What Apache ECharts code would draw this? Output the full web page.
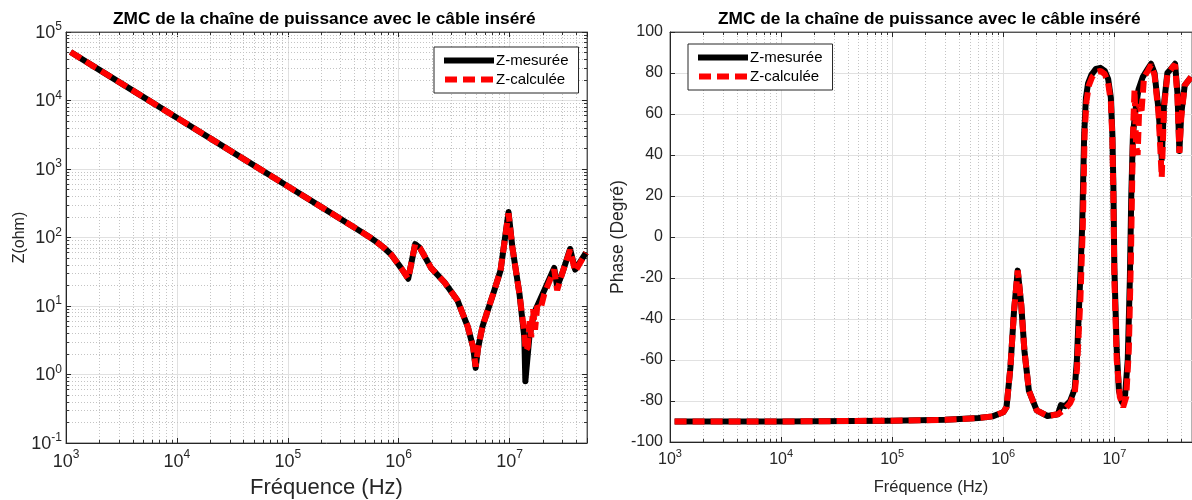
<!DOCTYPE html>
<html><head><meta charset="utf-8">
<script src="https://cdn.jsdelivr.net/npm/echarts@6/dist/echarts.min.js"></script>
<style>html,body{margin:0;padding:0;background:#fff}#c{width:1192px;height:500px}</style>
</head><body><div id="c"></div>
<script>
// ---------- DATA ----------
const titleText = 'ZMC de la chaîne de puissance avec le câble inséré';
const seriesNames = ['Z-mesurée', 'Z-calculée'];
const xName = 'Fréquence (Hz)';
const yNameZ = 'Z(ohm)';
const yNamePh = 'Phase (Degré)';

// Impedance magnitude (ohm) vs frequency (Hz)
const freqZMes = [1100, 2000, 5000, 10000, 20000, 50000, 100000, 200000, 430000, 550000, 640000, 730000, 860000, 1050000, 1150000, 1220000, 1410000, 1560000, 1960000, 2600000, 3400000, 4200000, 4700000, 4950000, 5200000, 5700000, 7300000, 8300000, 9800000, 10600000, 12300000, 13600000, 13900000, 15100000, 16700000, 20600000, 25300000, 26900000, 29900000, 35200000, 39100000, 49000000];
const zMes     = [51000, 28000, 11200, 5600, 2800, 1120, 560, 280, 130, 101, 85, 72, 56, 36, 29, 25, 80, 70, 36, 22, 12, 5, 2.5, 1.25, 2.4, 5, 17, 33, 235, 73, 15, 3.5, 0.8, 3.5, 8, 17, 36, 19, 30, 68, 34, 60];

const freqZCal = [1100, 2000, 5000, 10000, 20000, 50000, 100000, 200000, 430000, 550000, 640000, 730000, 860000, 1050000, 1150000, 1220000, 1410000, 1560000, 1960000, 2600000, 3400000, 4200000, 4700000, 4950000, 5200000, 5700000, 7300000, 8300000, 9800000, 10600000, 12300000, 13600000, 14000000, 14600000, 15200000, 15700000, 16300000, 17000000, 17800000, 19000000, 20600000, 25300000, 26900000, 29900000, 35200000, 39100000, 49000000];
const zCal     = [51000, 28000, 11200, 5600, 2800, 1120, 560, 280, 130, 101, 85, 72, 56, 36, 29, 25, 80, 70, 36, 22, 12, 5, 2.5, 1.3, 2.4, 5, 17, 33, 225, 73, 15, 4, 2.2, 2.5, 6, 3.5, 9, 4.5, 10, 9, 15, 34, 17, 30, 66, 32, 60];

// Phase (degrees) vs frequency (Hz)
const freqPhMes = [1100, 10000, 100000, 300000, 600000, 800000, 1000000, 1070000, 1160000, 1250000, 1350000, 1450000, 1550000, 1700000, 2000000, 2500000, 3100000, 3300000, 3600000, 4000000, 4400000, 4600000, 4930000, 5130000, 5350000, 5550000, 5800000, 6200000, 6800000, 7500000, 8200000, 8800000, 9300000, 9600000, 9800000, 10000000, 10500000, 11000000, 11700000, 12500000, 13200000, 13800000, 14200000, 14700000, 15500000, 16500000, 18000000, 20000000, 21400000, 23000000, 25000000, 26700000, 28000000, 30000000, 33500000, 35200000, 37000000, 38500000, 40000000, 43000000, 49000000];
const phMes     = [-90, -90, -89.6, -89.2, -88.3, -87.5, -85.5, -83, -63.5, -36, -16.4, -32.7, -55.4, -74.9, -84.6, -87.3, -86.5, -82, -82.5, -80, -74, -60, -20, 5, 50, 68, 75, 79, 82, 82.5, 81, 77, 68, 50, 25, -15, -55, -75, -80.5, -77, -60, -20, 20, 50, 62, 72, 78, 82, 84.5, 80, 62, 38, 65, 80, 83, 84.5, 70, 42, 60, 74, 78];

const freqPhCal = [1100, 10000, 100000, 300000, 600000, 800000, 1000000, 1070000, 1160000, 1250000, 1350000, 1450000, 1550000, 1700000, 2000000, 2500000, 3100000, 3600000, 4000000, 4400000, 4600000, 4950000, 5200000, 5400000, 5600000, 5900000, 6300000, 6900000, 7500000, 8200000, 8800000, 9300000, 9600000, 9800000, 10000000, 10500000, 11200000, 12000000, 12800000, 13500000, 14100000, 14500000, 14800000, 15200000, 15700000, 16200000, 16800000, 17500000, 18500000, 20000000, 21400000, 23000000, 25000000, 26700000, 28000000, 30000000, 33500000, 35200000, 37000000, 38500000, 40000000, 43000000, 49000000];
const phCal     = [-90, -90, -89.6, -89.2, -88.3, -87.5, -85.5, -83, -63.5, -36, -16.4, -32.7, -55.4, -74.9, -84.6, -87.3, -86.5, -84, -81, -76, -65, -30, 5, 50, 66, 74, 78, 80.5, 81, 79.5, 75, 66, 48, 20, -20, -60, -78, -83, -78, -55, -10, 30, 55, 72, 45, 40, 65, 60, 78, 81, 84, 79, 60, 29, 63, 79, 83, 84, 68, 41, 58, 74, 78];

// Axis ranges / ticks
const freqMin = 1000, freqMax = 50000000;
const zMin = 0.1, zMax = 100000;
const phMin = -100, phMax = 100, phStep = 20;
const freqDecades = [1000, 10000, 100000, 1000000, 10000000];
const zDecades = [0.1, 1, 10, 100, 1000, 10000];
const minorMult = [2, 3, 4, 5, 6, 7, 8, 9];

// ---------- HELPERS ----------
const FONT = 'Liberation Sans, Arial, Helvetica, sans-serif';
const TXT = '#262626';
const LW = 6;
function pairs(xs, ys) { return xs.map((x, i) => [x, ys[i]]); }
function minorList(decs, lo, hi) {
  const out = [];
  decs.forEach(d => minorMult.forEach(m => { const v = d * m; if (v > lo && v < hi) out.push(v); }));
  return out;
}
const fMinor = minorList(freqDecades, freqMin, freqMax);
const zMinor = minorList(zDecades, zMin, zMax);

function powLabel(v) {
  const l = Math.log10(v), e = Math.round(l);
  if (Math.abs(l - e) > 1e-6) return '';
  return '{b|10}{s|' + e + '}';
}
function rich(big, small, lift) {
  return {
    b: { fontSize: big, color: TXT, fontFamily: FONT, verticalAlign: 'bottom', lineHeight: big + 2 },
    s: { fontSize: small, color: TXT, fontFamily: FONT, verticalAlign: 'bottom', lineHeight: small, padding: [0, 0, lift, 0] }
  };
}

const fTickF = Math.pow(10, 3 / 111.5);
const zTickF = Math.pow(10, 3 / 68.5);
const phTick = 3 / 2.055;

const gridLineStyle = { color: '#c4c4c4', type: [1, 2], width: 1 };
const tickStyle = { color: '#333', type: 'solid', width: 1 };

function gridSeries(xi, yi, data, style) {
  return {
    type: 'line', xAxisIndex: xi, yAxisIndex: yi, data: [], z: 1, silent: true,
    markLine: { silent: true, z: 1, zlevel: 0, symbol: 'none', animation: false, label: { show: false },
      lineStyle: Object.assign({}, style), emphasis: { disabled: true }, data: data }
  };
}

const leftMinorGrid = fMinor.map(v => ({ xAxis: v })).concat(zMinor.map(v => ({ yAxis: v })));
const rightMinorGrid = fMinor.map(v => ({ xAxis: v }));
const leftMinorTicks = [];
fMinor.forEach(v => {
  leftMinorTicks.push([{ coord: [v, zMin] }, { coord: [v, zMin * zTickF] }]);
  leftMinorTicks.push([{ coord: [v, zMax] }, { coord: [v, zMax / zTickF] }]);
});
zMinor.forEach(v => {
  leftMinorTicks.push([{ coord: [freqMin, v] }, { coord: [freqMin * fTickF, v] }]);
  leftMinorTicks.push([{ coord: [freqMax, v] }, { coord: [freqMax / fTickF, v] }]);
});
const rightMinorTicks = [];
fMinor.forEach(v => {
  rightMinorTicks.push([{ coord: [v, phMin] }, { coord: [v, phMin + phTick] }]);
  rightMinorTicks.push([{ coord: [v, phMax] }, { coord: [v, phMax - phTick] }]);
});

function logX(gi, pos, showLabel, big, small, nameSize, nameGap) {
  return {
    gridIndex: gi, type: 'log', logBase: 10, min: freqMin, max: freqMax, position: pos,
    axisLine: { show: true, onZero: false, lineStyle: { color: pos === 'bottom' ? TXT : '#555', width: 1 } },
    axisTick: { show: true, inside: true, length: 5, lineStyle: { color: TXT } },
    axisLabel: { show: showLabel, formatter: powLabel, rich: rich(big, small, Math.round(small * 0.8)), margin: 8 },
    splitLine: { show: pos === 'bottom', lineStyle: { color: '#e1e1e1', width: 1 } },
    name: pos === 'bottom' ? xName : '', nameLocation: 'middle', nameGap: nameGap,
    nameTextStyle: { fontSize: nameSize, color: TXT, fontFamily: FONT }
  };
}

const ICON_SOLID = 'path://M0,0H50V6H0Z';
const ICON_DASH = 'path://M0,0H12V6H0Z M18,0H30V6H18Z M36,0H48V6H36Z';
function legendData() {
  return [
    { name: seriesNames[0], icon: ICON_SOLID, itemStyle: { color: '#000' } },
    { name: seriesNames[1], icon: ICON_DASH, itemStyle: { color: '#ff0000' } }
  ];
}
function legend(left, top) {
  return { z: 10, left: left, top: top, orient: 'vertical', data: legendData(), itemWidth: 50, itemHeight: 6, itemGap: 2,
    padding: [5, 10, 5, 10], borderColor: '#262626', borderWidth: 1, backgroundColor: '#fff',
    textStyle: { fontSize: 15, lineHeight: 17, color: '#000', fontFamily: FONT, padding: [0, 0, 0, -3] }, selectedMode: false };
}

const option = {
  animation: false,
  backgroundColor: '#fff',
  textStyle: { fontFamily: FONT },
  title: [
    { text: titleText, left: 108, top: 6, textStyle: { fontSize: 17.3, fontWeight: 'bold', color: '#000', fontFamily: FONT } },
    { text: titleText, left: 713, top: 6, textStyle: { fontSize: 17.3, fontWeight: 'bold', color: '#000', fontFamily: FONT } }
  ],
  grid: [
    { left: 66, top: 32, width: 521, height: 411, containLabel: false, outerBoundsMode: 'none',
      show: true, borderColor: '#666', borderWidth: 1, backgroundColor: '#fff' },
    { left: 670, top: 32, width: 522, height: 410, containLabel: false, outerBoundsMode: 'none',
      show: true, borderColor: '#666', borderWidth: 1, backgroundColor: '#fff' }
  ],
  xAxis: [
    logX(0, 'bottom', true, 18, 12, 22, 34),
    logX(0, 'top', false, 18, 12, 22, 34),
    logX(1, 'bottom', true, 16, 11, 16.5, 37),
    logX(1, 'top', false, 16, 11, 16.5, 37)
  ],
  yAxis: [
    { gridIndex: 0, type: 'log', logBase: 10, min: zMin, max: zMax, position: 'left',
      axisLine: { show: true, onZero: false, lineStyle: { color: TXT } },
      axisTick: { show: true, inside: true, length: 5, lineStyle: { color: TXT } },
      axisLabel: { formatter: powLabel, rich: rich(18, 12, 9), margin: 4 },
      splitLine: { show: true, lineStyle: { color: '#e1e1e1' } },
      name: yNameZ, nameLocation: 'middle', nameGap: 38,
      nameTextStyle: { fontSize: 16, color: TXT, fontFamily: FONT } },
    { gridIndex: 0, type: 'log', logBase: 10, min: zMin, max: zMax, position: 'right',
      axisLine: { show: true, onZero: false, lineStyle: { color: '#555' } },
      axisTick: { show: true, inside: true, length: 5, lineStyle: { color: TXT } },
      axisLabel: { show: false }, splitLine: { show: false } },
    { gridIndex: 1, type: 'value', min: phMin, max: phMax, interval: phStep, position: 'left',
      axisLine: { show: true, onZero: false, lineStyle: { color: TXT } },
      axisTick: { show: true, inside: true, length: 5, lineStyle: { color: TXT } },
      axisLabel: { fontSize: 16, color: TXT, fontFamily: FONT, margin: 7 },
      splitLine: { show: true, lineStyle: { color: '#e1e1e1' } },
      name: yNamePh, nameLocation: 'middle', nameGap: 43,
      nameTextStyle: { fontSize: 17.5, color: TXT, fontFamily: FONT } }
  ],
  legend: [legend(434, 47), legend(688, 44)],
  series: [
    gridSeries(0, 0, leftMinorGrid, gridLineStyle),
    gridSeries(2, 2, rightMinorGrid, gridLineStyle),
    gridSeries(0, 0, leftMinorTicks, tickStyle),
    gridSeries(2, 2, rightMinorTicks, tickStyle),
    { name: seriesNames[0], type: 'line', xAxisIndex: 0, yAxisIndex: 0, data: pairs(freqZMes, zMes),
      symbol: 'none', showSymbol: false, z: 2, lineStyle: { color: '#000', width: LW, join: 'round' }, itemStyle: { color: '#000' } },
    { name: seriesNames[1], type: 'line', xAxisIndex: 0, yAxisIndex: 0, data: pairs(freqZCal, zCal),
      symbol: 'none', showSymbol: false, z: 3, lineStyle: { color: '#ff0000', width: LW, type: [12, 6] }, itemStyle: { color: '#ff0000' } },
    { name: seriesNames[0], type: 'line', xAxisIndex: 2, yAxisIndex: 2, data: pairs(freqPhMes, phMes),
      symbol: 'none', showSymbol: false, z: 2, lineStyle: { color: '#000', width: LW, join: 'round' }, itemStyle: { color: '#000' } },
    { name: seriesNames[1], type: 'line', xAxisIndex: 2, yAxisIndex: 2, data: pairs(freqPhCal, phCal),
      symbol: 'none', showSymbol: false, z: 3, lineStyle: { color: '#ff0000', width: LW, type: [12, 6] }, itemStyle: { color: '#ff0000' } }
  ]
};
const chart = echarts.init(document.getElementById('c'), null, { renderer: 'canvas' });
chart.setOption(option);
</script>
</body></html>
